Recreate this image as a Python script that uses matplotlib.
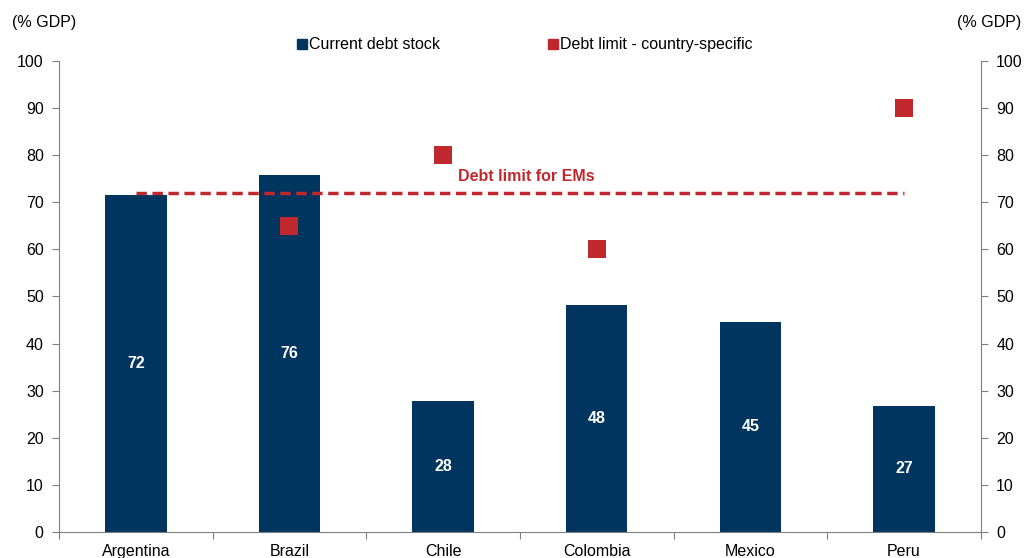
import numpy as np
import matplotlib
matplotlib.use("Agg")
import matplotlib.pyplot as plt
from matplotlib.lines import Line2D

plt.rcParams['font.family'] = ['Liberation Sans', 'DejaVu Sans']

countries = ["Argentina", "Brazil", "Chile", "Colombia", "Mexico", "Peru"]
debt_stock = [71.6, 75.7, 27.8, 48.2, 44.6, 26.8]
# country-specific limits
limit_countries = ["Brazil", "Chile", "Colombia", "Peru"]
limit_values = [65, 80, 60, 90]
em_limit = 72

navy = "#003560"
red = "#C0282D"
fs = 11.5

fig = plt.figure(figsize=(10.26, 5.58), dpi=100)
ax = fig.add_axes([0.0575, 0.0466, 0.8985, 0.8441])

x = np.arange(len(countries))
ax.bar(x, debt_stock, width=0.4, color=navy, zorder=2)
for xi, v in zip(x, debt_stock):
    ax.text(xi, v / 2, f"{v:.0f}", ha="center", va="center", color="white",
            fontsize=fs, fontweight="bold", zorder=3)

lx = [countries.index(c) for c in limit_countries]
ax.scatter(lx, limit_values, marker="s", s=180, color=red, zorder=4, linewidths=0)

ax.plot([x[0], x[-1]], [em_limit, em_limit], ls=(0, (3, 1.6)), lw=2.5, color=red, zorder=3)
ax.text(2.1, em_limit + 3.4, "Debt limit for EMs", color=red, fontsize=fs,
        fontweight="bold", ha="left", va="center")

ax.set_xlim(-0.5, len(countries) - 0.5)
ax.set_ylim(0, 100)
ax.set_yticks(range(0, 101, 10))
ax.set_xticks(np.arange(-0.5, len(countries), 1.0))
ax.set_xticklabels([])
ax.set_xticks(x, minor=True)
ax.set_xticklabels(countries, minor=True)
ax.tick_params(axis="x", which="minor", length=0, pad=9, labelsize=fs)
ax.tick_params(axis="x", which="major", length=5, color="#808080")
ax.tick_params(axis="y", length=5, color="#808080", labelsize=fs, pad=6)

ax.spines["top"].set_visible(False)
ax.spines["right"].set_visible(False)
for s in ["left", "bottom"]:
    ax.spines[s].set_color("#808080")

ax2 = ax.twinx()
ax2.set_ylim(0, 100)
ax2.set_yticks(range(0, 101, 10))
ax2.tick_params(axis="y", length=5, color="#808080", labelsize=fs, pad=6)
for s in ["top", "left", "bottom"]:
    ax2.spines[s].set_visible(False)
ax2.spines["right"].set_color("#808080")

fig.text(0.012, 0.96, "(% GDP)", fontsize=fs, ha="left", va="center")
fig.text(0.995, 0.96, "(% GDP)", fontsize=fs, ha="right", va="center")

handles = [
    Line2D([], [], marker="s", ls="", color=navy, markersize=7),
    Line2D([], [], marker="s", ls="", color=red, markersize=7),
]
fig.legend(handles, ["Current debt stock", "Debt limit - country-specific"],
           loc="center", bbox_to_anchor=(0.51, 0.92), ncol=2, frameon=False,
           fontsize=fs, handletextpad=-0.05, columnspacing=6.6, handlelength=1.0)

fig.savefig("out.png", dpi=100)
